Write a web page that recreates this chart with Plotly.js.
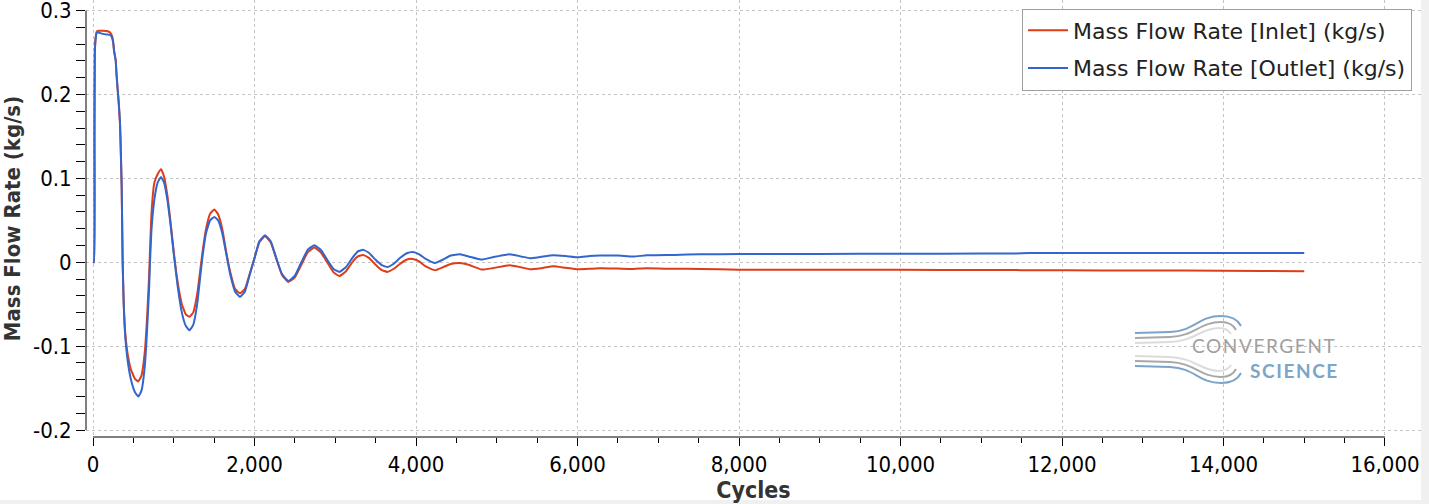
<!DOCTYPE html>
<html>
<head>
<meta charset="utf-8">
<script src="https://cdn.plot.ly/plotly-3.0.1.min.js"></script>
<style>html,body{margin:0;padding:0;background:#fff;}#chart{width:1429px;height:504px;}</style>
</head>
<body>
<div id="chart"></div>
<script>
// ---- data ----
const cycles = [0,10,18,22,33,46,66,124,180,210,235,251,260,281,290,301,318,334,343,355,367,380,400,430,470,520,561,600,640,670,695,706,725,760,800,842,880,920,960,1000,1050,1100,1150,1193,1240,1290,1330,1360,1400,1450,1503,1550,1600,1650,1700,1760,1820,1880,1940,2000,2060,2130,2200,2270,2340,2419,2500,2580,2660,2741,2820,2900,2980,3050,3130,3210,3280,3345,3420,3500,3570,3645,3720,3800,3880,3959,4040,4120,4235,4330,4430,4545,4650,4813,4950,5156,5300,5412,5550,5701,5850,6010,6150,6279,6500,6691,6857,7200,7517,8000,9000,10000,11000,11400,11600,12500,13500,14500,15000];
const inletFlow = [0,0,0.15,0.25,0.268,0.275,0.276,0.276,0.2755,0.274,0.27,0.262,0.253,0.241,0.226,0.211,0.19,0.165,0.135,0.088,0.0,-0.048,-0.085,-0.11,-0.128,-0.139,-0.142,-0.135,-0.108,-0.065,-0.015,0.015,0.06,0.095,0.105,0.111,0.102,0.08,0.048,0.012,-0.025,-0.05,-0.062,-0.065,-0.06,-0.038,-0.008,0.015,0.04,0.058,0.063,0.057,0.04,0.012,-0.012,-0.032,-0.037,-0.032,-0.014,0.005,0.024,0.031,0.024,0.004,-0.015,-0.0235,-0.018,-0.003,0.012,0.0175,0.012,0.0,-0.012,-0.0165,-0.011,0.0,0.007,0.0088,0.005,-0.003,-0.009,-0.0115,-0.008,-0.002,0.003,0.004,0.001,-0.005,-0.0095,-0.006,-0.002,-0.0008,-0.003,-0.0087,-0.007,-0.0036,-0.006,-0.0083,-0.007,-0.0048,-0.0065,-0.0083,-0.0078,-0.0071,-0.0075,-0.0079,-0.0072,-0.0078,-0.0079,-0.0088,-0.009,-0.009,-0.0092,-0.0092,-0.0095,-0.0097,-0.0098,-0.0103,-0.0106];
const outletFlow = [0,0,0.15,0.249,0.267,0.2735,0.274,0.2723,0.2715,0.271,0.268,0.261,0.252,0.24,0.225,0.211,0.191,0.167,0.137,0.09,0.0,-0.05,-0.09,-0.118,-0.14,-0.155,-0.16,-0.153,-0.125,-0.08,-0.03,0.0,0.04,0.075,0.095,0.1016,0.095,0.075,0.045,0.01,-0.03,-0.06,-0.076,-0.081,-0.075,-0.05,-0.015,0.01,0.035,0.05,0.054,0.05,0.035,0.01,-0.015,-0.035,-0.0413,-0.035,-0.015,0.005,0.025,0.0321,0.025,0.005,-0.014,-0.0222,-0.016,0.0,0.015,0.0202,0.015,0.003,-0.008,-0.0115,-0.006,0.005,0.013,0.0148,0.011,0.003,-0.003,-0.0056,-0.002,0.005,0.0105,0.0123,0.0095,0.004,-0.0008,0.003,0.008,0.0095,0.007,0.0032,0.006,0.0095,0.007,0.0048,0.0065,0.0083,0.0075,0.006,0.0075,0.008,0.008,0.0068,0.0083,0.0088,0.0095,0.0098,0.01,0.0102,0.0104,0.0104,0.011,0.011,0.0111,0.0111,0.0111];
const seriesNames = ['Mass Flow Rate [Inlet] (kg/s)', 'Mass Flow Rate [Outlet] (kg/s)'];
const yTickVals = [-0.2,-0.1,0,0.1,0.2,0.3];
const yTickText = ['-0.2','-0.1','0','0.1','0.2','0.3'];
const xTitle = 'Cycles';
const yTitle = 'Mass Flow Rate (kg/s)';

// ---- layout helpers ----
const L = 86, R = 1421, T = 0, B = 437, W = R - L, H = B - T;
const px = x => (x - L) / W;
const py = y => (B - y) / H;
const toPaper = d => d.replace(/(-?\d+(?:\.\d+)?),(-?\d+(?:\.\d+)?)/g,
  (m, a, b) => px(+a).toFixed(5) + ',' + py(+b).toFixed(5));

const yMinor = [];
for (let v = -20; v <= 30; v += 2) yMinor.push(v / 100);

const tickFont = {family: 'DejaVu Sans Condensed, DejaVu Sans, sans-serif', size: 22, color: '#000'};
const titleFont = {family: 'DejaVu Sans Condensed, DejaVu Sans, sans-serif', size: 22, color: '#333', weight: 'bold'};

const traces = [
  {x: cycles, y: inletFlow, name: seriesNames[0], legendgroup: 'inlet', type: 'scatter', mode: 'lines',
   line: {color: '#df3c18', width: 2, shape: 'spline', smoothing: 0.4}},
  {x: cycles, y: outletFlow, name: seriesNames[1], legendgroup: 'outlet', type: 'scatter', mode: 'lines',
   line: {color: '#3366cc', width: 2, shape: 'spline', smoothing: 0.4}}
];

const logoLines = [
  ['M1135,333 L1170,332 C1195,331 1198,316 1221,316 C1231,316 1238,320 1241,326', '#7ba3c8'],
  ['M1135,338 L1170,337 C1195,336 1200,322 1221,322 C1229,322 1234,326 1236,330', '#a8a8a8'],
  ['M1135,343 L1170,342 C1195,341 1201,328 1219,328 C1225,328 1229,331 1231,334', '#dcdcdc'],
  ['M1135,356 L1170,357 C1195,358 1201,371 1219,371 C1225,371 1229,368 1231,365', '#dcdcdc'],
  ['M1135,361 L1170,362 C1195,363 1200,377 1221,377 C1229,377 1234,373 1236,369', '#a8a8a8'],
  ['M1135,366 L1170,367 C1195,368 1198,383 1221,383 C1231,383 1238,379 1241,373', '#7ba3c8']
];

const shapes = [
  // window-grey strips around the widget
  {type: 'rect', xref: 'paper', yref: 'paper', x0: px(1421), x1: px(1430), y0: py(505), y1: py(-1),
   fillcolor: '#f0f0f0', line: {width: 0}},
  {type: 'rect', xref: 'paper', yref: 'paper', x0: px(-1), x1: px(1430), y0: py(505), y1: py(500),
   fillcolor: '#f0f0f0', line: {width: 0}},
  // axis lines (offset style)
  {type: 'line', xref: 'x', yref: 'paper', x0: 0, x1: 16000, y0: 0, y1: 0, line: {color: '#000', width: 1}},
  {type: 'line', xref: 'paper', yref: 'y', x0: 0, x1: 0, y0: -0.2, y1: 0.3, line: {color: '#000', width: 1}}
];
logoLines.forEach(([d, c]) => shapes.push({type: 'path', xref: 'paper', yref: 'paper', path: toPaper(d),
  line: {color: c, width: 2}, layer: 'above'}));

const layout = {
  width: 1429, height: 504,
  margin: {l: L, r: 1429 - R, t: T, b: 504 - B, pad: 0},
  paper_bgcolor: '#fff', plot_bgcolor: '#fff',
  showlegend: true,
  legend: {x: px(1412), y: py(8.5), xanchor: 'right', yanchor: 'top',
    bgcolor: '#fff', bordercolor: '#a0a0a0', borderwidth: 1,
    traceorder: 'grouped', tracegroupgap: 6, itemwidth: 40,
    font: {family: 'DejaVu Sans, sans-serif', size: 22, color: '#222'}},
  xaxis: {range: [-87, 16446], tickmode: 'linear', tick0: 0, dtick: 2000, tickformat: ',d',
    ticks: 'outside', ticklen: 8, tickwidth: 1, tickcolor: '#000',
    showline: false, zeroline: false, showgrid: true, gridcolor: '#c4c4c4', griddash: 'dot', gridwidth: 1,
    minor: {tick0: 0, dtick: 500, ticks: 'outside', ticklen: 5, tickwidth: 1, tickcolor: '#000', showgrid: false},
    tickfont: tickFont, automargin: false, ticklabeloverflow: 'allow',
    title: {text: xTitle, font: Object.assign({}, titleFont, {size: 23}), standoff: 4}},
  yaxis: {range: [-0.2083, 0.3127], tickmode: 'array', tickvals: yTickVals, ticktext: yTickText,
    ticks: 'outside', ticklen: 9, tickwidth: 1, tickcolor: '#000',
    showline: false, zeroline: false, showgrid: true, gridcolor: '#c4c4c4', griddash: 'dot', gridwidth: 1,
    minor: {tickmode: 'array', tickvals: yMinor, ticks: 'outside', ticklen: 9, tickwidth: 1, tickcolor: '#000', showgrid: false},
    tickfont: tickFont, automargin: false, ticklabeloverflow: 'allow',
    title: {text: yTitle, font: titleFont, standoff: 6}},
  shapes: shapes,
  annotations: [
    {xref: 'paper', yref: 'paper', x: px(1264), y: py(345.5), xanchor: 'center', yanchor: 'middle', showarrow: false,
     text: '<span style="letter-spacing:1.6px">CONVERGENT</span>',
     font: {family: 'Lato, sans-serif', size: 19, color: '#a0a0a0'}},
    {xref: 'paper', yref: 'paper', x: px(1294), y: py(370.5), xanchor: 'center', yanchor: 'middle', showarrow: false,
     text: '<span style="letter-spacing:1.6px">SCIENCE</span>',
     font: {family: 'Lato, sans-serif', size: 19, color: '#7ca5ca', weight: 'bold'}}
  ]
};

Plotly.newPlot('chart', traces, layout, {displayModeBar: false, staticPlot: true});
</script>
</body>
</html>
